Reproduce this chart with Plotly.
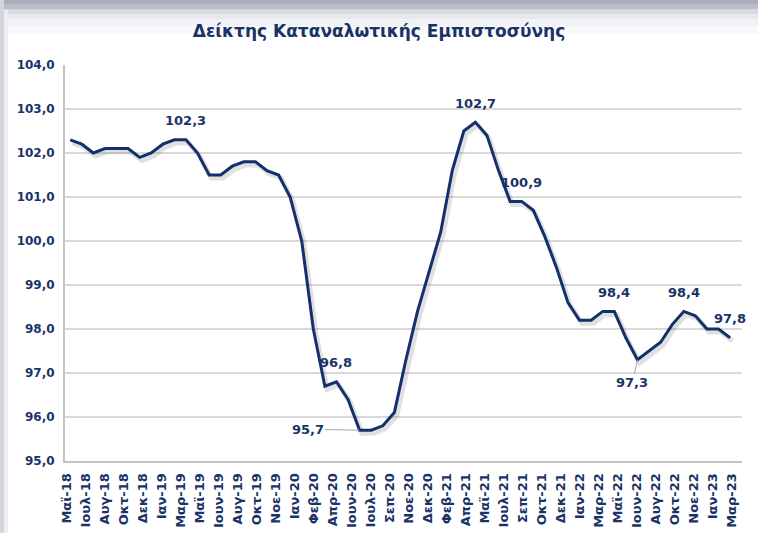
import plotly.graph_objects as go

# Consumer confidence index, monthly (Jun-18 .. Mar-23)
values = [102.3, 102.2, 102.0, 102.1, 102.1, 102.1, 101.9, 102.0, 102.2, 102.3,
          102.3, 102.0, 101.5, 101.5, 101.7, 101.8, 101.8, 101.6, 101.5, 101.0,
          100.0, 98.0, 96.7, 96.8, 96.4, 95.7, 95.7, 95.8, 96.1, 97.3,
          98.4, 99.3, 100.2, 101.6, 102.5, 102.7, 102.4, 101.6, 100.9, 100.9,
          100.7, 100.1, 99.4, 98.6, 98.2, 98.2, 98.4, 98.4, 97.8, 97.3,
          97.5, 97.7, 98.1, 98.4, 98.3, 98.0, 98.0, 97.8]

tick_labels = ["Μαϊ-18", "Ιουλ-18", "Αυγ-18", "Οκτ-18", "Δεκ-18", "Ιαν-19",
               "Μαρ-19", "Μαϊ-19", "Ιουν-19", "Αυγ-19", "Οκτ-19", "Νοε-19",
               "Ιαν-20", "Φεβ-20", "Απρ-20", "Ιουν-20", "Ιουλ-20", "Σεπ-20",
               "Νοε-20", "Δεκ-20", "Φεβ-21", "Απρ-21", "Μαϊ-21", "Ιουλ-21",
               "Σεπ-21", "Οκτ-21", "Δεκ-21", "Ιαν-22", "Μαρ-22", "Μαϊ-22",
               "Ιουν-22", "Αυγ-22", "Οκτ-22", "Νοε-22", "Ιαν-23", "Μαρ-23"]

# points that carry a value label: (index, position)
labelled = [(10, "above"), (23, "above"), (25, "left"), (35, "above"),
            (39, "above"), (47, "above"), (49, "below"), (53, "above"),
            (57, "above")]

W, H = 758, 533
ML, MR, MT, MB = 65, 16, 65, 72
NAVY = "#13306b"
TEXT = "#1a3366"
FONT = "DejaVu Sans"

x = list(range(len(values)))

# horizontal layout of the category axis (in index units)
x_lo, x_hi = -0.45, 58.03
t_first, t_last = -0.3, 57.17
n = len(tick_labels)
tickvals = [t_first + k * (t_last - t_first) / (n - 1) for k in range(n)]

fig = go.Figure()

# soft drop shadow under the line
fig.add_trace(go.Scatter(
    x=[v + 0.2 for v in x], y=[v - 0.07 for v in values], mode="lines",
    line=dict(color="rgba(60,60,60,0.16)", width=5),
    hoverinfo="skip", showlegend=False))

fig.add_trace(go.Scatter(
    x=x, y=values, mode="lines",
    line=dict(color=NAVY, width=3),
    showlegend=False))


def fmt(v):
    return f"{v:.1f}".replace(".", ",")


for i, pos in labelled:
    a = dict(x=x[i], y=values[i], xref="x", yref="y", text=fmt(values[i]),
             font=dict(family=FONT, size=13, color=TEXT, weight="bold"))
    if pos == "above":
        a.update(showarrow=False, yshift=19)
    elif pos == "left":
        a.update(showarrow=True, ax=-52, ay=-1, arrowhead=0, arrowwidth=1,
                 arrowcolor="#a6a6a6", standoff=0)
    else:
        a.update(showarrow=True, ax=-5, ay=23, arrowhead=0, arrowwidth=1,
                 arrowcolor="#a6a6a6", standoff=0)
    fig.add_annotation(**a)


def px(xp):
    return (xp - ML) / (W - ML - MR)


def py(yp):
    return 1 - (yp - MT) / (H - MT - MB)


# frame: grey band on top fading to white, thin grey left edge
bands = [(0, 4, "#a9aebb"), (4, 9, "#b9bdc8"), (9, 14, "#d6d9e0"),
         (14, 19, "#e6e8ed"), (19, 26, "#f1f2f5"), (26, 34, "#f8f9fa")]
for y0, y1, c in bands:
    fig.add_shape(type="rect", xref="paper", yref="paper", layer="below",
                  x0=px(0), x1=px(W), y0=py(y1), y1=py(y0),
                  fillcolor=c, line_width=0)
fig.add_shape(type="rect", xref="paper", yref="paper", layer="below",
              x0=px(0), x1=px(4), y0=py(H), y1=py(0),
              fillcolor="#d4d6dc", line_width=0)
fig.add_shape(type="rect", xref="paper", yref="paper", layer="below",
              x0=px(4), x1=px(8), y0=py(H), y1=py(10),
              fillcolor="#eceef1", line_width=0)

fig.update_layout(
    width=W, height=H,
    margin=dict(l=ML, r=MR, t=MT, b=MB),
    paper_bgcolor="white", plot_bgcolor="white",
    separators=",.",
    title=dict(text="<b>Δείκτης Καταναλωτικής Εμπιστοσύνης</b>",
               x=0.5, xanchor="center", y=1 - 31 / H, yanchor="middle",
               font=dict(family=FONT, size=17, color=TEXT)),
    xaxis=dict(range=[x_lo, x_hi], tickmode="array", tickvals=tickvals,
               ticktext=tick_labels, tickangle=-90, showgrid=False,
               zeroline=False, showline=True, linecolor="#c4c4c4",
               linewidth=2, ticks="", ticklabelstandoff=5, automargin=False,
               tickfont=dict(family=FONT, size=13, color=TEXT, weight="bold")),
    yaxis=dict(range=[95, 104], dtick=1, tickformat=".1f", showgrid=True,
               gridcolor="#d9d9d9", gridwidth=1.5, zeroline=False,
               showline=True, linecolor="#c4c4c4", linewidth=2, ticks="",
               ticklabelstandoff=6, automargin=False,
               tickfont=dict(family=FONT, size=12, color=TEXT, weight="bold")),
)

fig.write_html("out.html")
